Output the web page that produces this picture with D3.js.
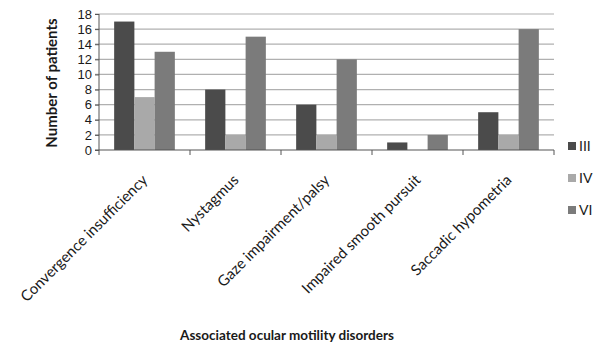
<!DOCTYPE html>
<html><head><meta charset="utf-8">
<script src="https://cdn.jsdelivr.net/npm/d3@7"></script>
<style>body{margin:0;background:#fff}svg{display:block}text{font-family:Lato,"Open Sans",sans-serif}</style>
</head><body><svg id="c" width="603" height="345"></svg>
<script>
const categories = ["Convergence insufficiency","Nystagmus","Gaze impairment/palsy","Impaired smooth pursuit","Saccadic hypometria"];
const seriesNames = ["III","IV","VI"];
const valuesIII = [17,8,6,1,5];
const valuesIV = [7,2,2,0,2];
const valuesVI = [13,15,12,2,16];
const yTicks = [0,2,4,6,8,10,12,14,16,18];
const colors = ["#4b4b4b","#a9a9a9","#7b7b7b"];

const series = [valuesIII, valuesIV, valuesVI];
const svg = d3.select("#c");
const L = 99, R = 554, T = 14, B = 150;
const x = d3.scaleBand().domain(categories).range([L, R]).paddingInner(0.333).paddingOuter(0.1665);
const x1 = d3.scaleBand().domain(seriesNames).range([0, x.bandwidth()]);
const xTickScale = d3.scaleBand().domain(categories).range([L, R]);
const y = d3.scaleLinear().domain([0, 18]).range([B, T]);

// gridlines
svg.append("g").selectAll("line").data(yTicks.filter(d=>d>0)).join("line")
  .attr("x1", L-4).attr("x2", R).attr("y1", d=>y(d)).attr("y2", d=>y(d))
  .attr("stroke", "#b0b0b0").attr("stroke-width", 1.2);

// bars
const g = svg.append("g");
categories.forEach((c, i) => {
  series.forEach((s, j) => {
    g.append("rect").attr("x", x(c) + x1(seriesNames[j])).attr("width", x1.bandwidth())
      .attr("y", y(s[i])).attr("height", B - y(s[i])).attr("fill", colors[j]);
  });
});

// y axis
const ya = svg.append("g").attr("transform", `translate(${L},0)`)
  .call(d3.axisLeft(y).tickValues(yTicks).tickSize(4).tickPadding(3));
ya.select(".domain").attr("stroke", "#555").attr("d", `M-4,${B}H0V${T}`);
ya.selectAll(".tick line").attr("stroke", "#555");
ya.selectAll("text").attr("font-size", 13).attr("fill", "#1a1a1a").style("font-family","'Liberation Sans',Arial,sans-serif");

// x axis
const xa = svg.append("g").attr("transform", `translate(0,${B})`);
xa.append("line").attr("x1", L).attr("x2", R).attr("y1", 0).attr("y2", 0).attr("stroke", "#555").attr("stroke-width",1.2);
const tickPos = categories.map(c => xTickScale(c)).concat([R]);
xa.selectAll("line.t").data(tickPos).join("line").attr("class","t")
  .attr("x1", d=>d).attr("x2", d=>d).attr("y1", 0).attr("y2", 5).attr("stroke", "#555");
xa.selectAll("text.cat").data(categories).join("text").attr("class","cat")
  .attr("transform", d => `translate(${x(d) + x.bandwidth()/2 + 4},${31}) rotate(-45)`)
  .attr("text-anchor", "end").attr("font-size", 15).attr("fill", "#1a1a1a").text(d=>d);

// titles
svg.append("text").attr("transform", "translate(57,83) rotate(-90)").attr("text-anchor","middle")
  .attr("font-size", 15).attr("font-weight","bold").attr("fill","#1a1a1a").text("Number of patients");
svg.append("text").attr("x", 287).attr("y", 340).attr("text-anchor","middle")
  .attr("font-size", 13.5).attr("font-weight","bold").attr("fill","#1a1a1a").text("Associated ocular motility disorders");

// legend
const lg = svg.append("g");
seriesNames.forEach((n, j) => {
  const yy = 146 + j*32;
  lg.append("rect").attr("x", 568).attr("y", yy-4).attr("width", 8).attr("height", 8).attr("fill", colors[j]);
  lg.append("text").attr("x", 579).attr("y", yy+5).attr("font-size", 14).attr("fill","#1a1a1a").text(n);
});
</script></body></html>
